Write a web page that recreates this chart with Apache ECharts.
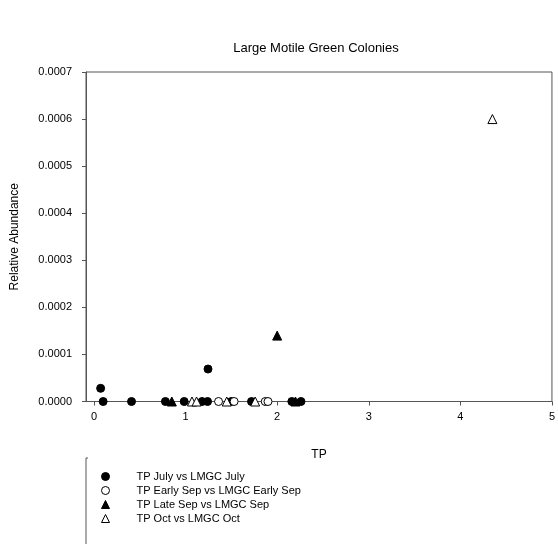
<!DOCTYPE html>
<html><head><meta charset="utf-8">
<script src="https://cdn.jsdelivr.net/npm/echarts@6/dist/echarts.min.js"></script>
<style>html,body{margin:0;padding:0;background:#fff}#c{width:558px;height:544px}</style>
</head><body><div id="c"></div>
<script>
const seriesNames = ['TP July vs LMGC July','TP Early Sep vs LMGC Early Sep','TP Late Sep vs LMGC Sep','TP Oct vs LMGC Oct'];
const julyX = [0.073, 0.10, 0.41, 0.78, 0.985, 1.18, 1.24, 1.245, 1.50, 1.72, 2.16, 2.26];
const julyY = [0.000028, 0, 0, 0, 0, 0, 0, 0.000069, 0, 0, 0, 0];
const earlySepX = [1.36, 1.53, 1.87, 1.90];
const earlySepY = [0, 0, 0, 0];
const lateSepX = [0.85, 2.0, 2.2];
const lateSepY = [0, 0.00014, 0];
const octX = [1.07, 1.12, 1.45, 1.76, 4.35];
const octY = [0, 0, 0, 0, 0.0006];
const xTicks = [0, 1, 2, 3, 4, 5];

const pair = (xs, ys) => xs.map((x, i) => [x, ys[i]]);
const font = 'Liberation Sans, Arial, sans-serif';
const chart = echarts.init(document.getElementById('c'));
const mk = (name, data, symbol, filled) => ({
  name, type: 'scatter', data, symbol, symbolSize: symbol === 'triangle' ? 9 : 8,
  itemStyle: { color: filled ? '#000' : '#fff', borderColor: '#000', borderWidth: 1, opacity: 1 },
  emphasis: { disabled: true }
});
chart.setOption({
  animation: false,
  title: { text: 'Large Motile Green Colonies', left: 311, top: 37, textAlign: 'center',
    textStyle: { fontFamily: font, fontSize: 13, fontWeight: 'normal', color: '#000' } },
  grid: { left: 86, right: 2, top: 72, bottom: 142.5, show: true, borderColor: '#555', borderWidth: 1 },
  xAxis: { type: 'value', min: -0.087, max: 5, name: 'TP', nameLocation: 'middle', nameGap: 47,
    nameTextStyle: { fontFamily: font, fontSize: 12, color: '#000' },
    axisLine: { show: true, onZero: false, lineStyle: { color: '#555' } },
    axisTick: { show: true, customValues: xTicks, length: 4, lineStyle: { color: '#555' } },
    axisLabel: { customValues: xTicks, margin: 10, fontFamily: font, fontSize: 11, color: '#000' },
    splitLine: { show: false } },
  yAxis: { type: 'value', min: 0, max: 0.0007, interval: 0.0001, name: 'Relative Abundance',
    nameLocation: 'middle', nameGap: 65,
    nameTextStyle: { fontFamily: font, fontSize: 12, color: '#000' },
    axisLine: { show: true, onZero: false, lineStyle: { color: '#555' } },
    axisTick: { show: true, length: 4, lineStyle: { color: '#555' } },
    axisLabel: { margin: 14, fontFamily: font, fontSize: 11, color: '#000', formatter: v => v.toFixed(4) },
    splitLine: { show: false } },
  legend: { orient: 'vertical', left: 96, top: 466, itemGap: 3, itemWidth: 8, itemHeight: 8,
    data: seriesNames, itemStyle: { borderWidth: 1 },
    textStyle: { fontFamily: font, fontSize: 11, color: '#000', padding: [0, 0, 0, 22] } },
  graphic: [{ type: 'polyline', shape: { points: [[86, 544], [86, 458], [88, 458]] },
    style: { stroke: '#555', fill: null, lineWidth: 1 } }],
  series: [
    mk(seriesNames[0], pair(julyX, julyY), 'circle', true),
    mk(seriesNames[1], pair(earlySepX, earlySepY), 'circle', false),
    mk(seriesNames[2], pair(lateSepX, lateSepY), 'triangle', true),
    mk(seriesNames[3], pair(octX, octY), 'triangle', false)
  ]
});
</script></body></html>
